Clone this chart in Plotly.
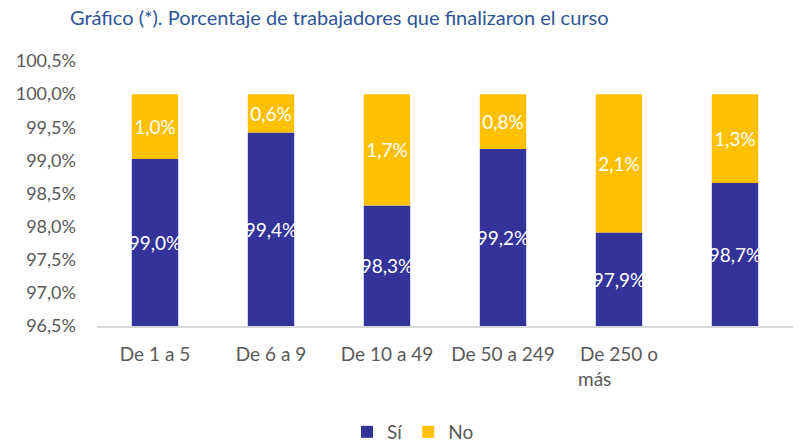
import plotly.graph_objects as go

NB = "\u00a0"
categories = ["De 1 a 5", "De 6 a 9", "De 10 a 49", "De 50 a 249", "De 250 o<br>más" + NB * 10, ""]
si_values = [99.02, 99.42, 98.32, 99.17, 97.91, 98.66]
no_values = [0.98, 0.58, 1.68, 0.83, 2.09, 1.34]
y_ticks = [96.5, 97.0, 97.5, 98.0, 98.5, 99.0, 99.5, 100.0, 100.5]

def fmt(v):
    return f"{v:.1f}".replace(".", ",") + "%"

y_min = y_ticks[0]
x_idx = list(range(len(categories)))
FONT = "Lato"

fig = go.Figure()
# Sí bars drawn from the axis floor so labels sit in the visible part of each bar
fig.add_trace(go.Bar(
    name="Sí", x=x_idx, y=[v - y_min for v in si_values], base=y_min,
    marker_color="#333399", marker_line_width=0,
    customdata=si_values, hovertemplate="Sí: %{customdata:.1f}%<extra></extra>",
    text=[fmt(v) for v in si_values], textposition="inside", textangle=0,
    insidetextanchor="middle",
    textfont=dict(color="white", size=19, family=FONT),
))
fig.add_trace(go.Bar(
    name="No", x=x_idx, y=no_values, base=si_values,
    marker_color="#FFC000", marker_line_width=0,
    customdata=no_values, hovertemplate="No: %{customdata:.1f}%<extra></extra>",
    text=[fmt(v) for v in no_values], textposition="inside", textangle=0,
    insidetextanchor="middle",
    textfont=dict(color="white", size=19, family=FONT),
))

fig.update_layout(
    barmode="overlay",
    bargap=0.6,
    width=801, height=445,
    margin=dict(l=97, r=8, t=61, b=119, autoexpand=False),
    paper_bgcolor="white", plot_bgcolor="white",
    font=dict(family=FONT, size=18, color="#595959"),
    title=dict(text="Gráfico (*). Porcentaje de trabajadores que finalizaron el curso",
               x=70/801, xanchor="left", y=1-18/445, yanchor="middle",
               font=dict(size=20, color="#2F5597", family=FONT)),
    uniformtext=dict(minsize=19, mode="show"),
    showlegend=True,
    legend=dict(orientation="h", xref="container", x=413/801, xanchor="center",
                yref="container", y=1-432/445, yanchor="middle",
                font=dict(size=19, color="#595959"), traceorder="normal",
                itemwidth=30),
)
fig.update_yaxes(range=[96.5, 100.5], tickvals=y_ticks,
                 ticktext=[fmt(v) for v in y_ticks], showgrid=False,
                 zeroline=False, showline=False, ticks="", ticklabelstandoff=20,
                 tickfont=dict(size=18), automargin=False)
fig.update_xaxes(tickvals=x_idx, ticktext=categories, showline=True,
                 linecolor="#D9D9D9", linewidth=2, ticks="", showgrid=False,
                 range=[-0.5, 5.5], ticklabelstandoff=10,
                 tickfont=dict(size=19), automargin=False)

fig.write_html("out.html", config={"displayModeBar": False},
               post_script="document.body.style.margin='0';")
